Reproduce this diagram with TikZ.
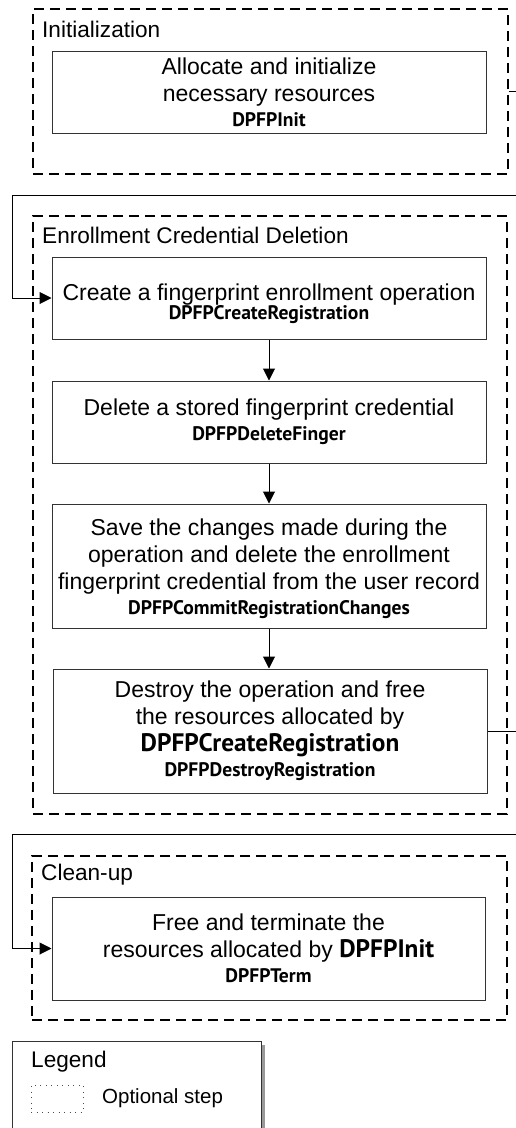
\documentclass[tikz,border=0pt]{standalone}
\usepackage{fontspec}
\setmainfont{Liberation Sans}
\newfontfamily\fnfont{PT Sans}
\usetikzlibrary{arrows.meta}
\newcommand\fnsm[1]{{\fnfont\bfseries\fontsize{19.6}{21}\selectfont #1}}
\newcommand\fnbig[1]{{\fnfont\bfseries\fontsize{25.3}{27}\selectfont #1}}
\begin{document}
\begin{tikzpicture}[x=1pt,y=-1pt,
  group/.style={draw=black, line width=1.4pt, dash pattern=on 10pt off 6pt, inner sep=0pt},
  stepbox/.style={draw=black!80, line width=1pt, minimum width=434pt, align=center, inner sep=0pt, font=\fontsize{23}{27}\selectfont},
  gtitle/.style={anchor=west, inner sep=0pt, font=\fontsize{22.6}{27}\selectfont},
  conn/.style={draw=black, line width=1pt},
  arr/.style={conn, -{Triangle[length=12pt,width=12pt]}},
]
\useasboundingbox (0,0) rectangle (516,1128);
\fill[white] (0,0) rectangle (516,1128);

% Initialization
\node[group, minimum width=475pt, minimum height=165pt] (g1) at (270.5,91.5) {};
\node[gtitle] (t1) at (42,29) {Initialization};
\node[stepbox, minimum height=82pt] (init) at (269,92) {Allocate and initialize\\necessary resources\\[-2pt]\fnsm{DPFPInit}};

% Enrollment Credential Deletion
\node[group, minimum width=474pt, minimum height=598pt] (g2) at (270,515) {};
\node[gtitle] (t2) at (42,235) {Enrollment Credential Deletion};
\node[stepbox, minimum height=82pt] (create) at (269,298) {\rule{0pt}{28pt}Create a fingerprint enrollment operation\\[-8pt]\fnsm{DPFPCreateRegistration}};
\node[stepbox, minimum height=82pt] (delete) at (269,422) {Delete a stored fingerprint credential\\[-2pt]\fnsm{DPFPDeleteFinger}};
\node[stepbox, minimum height=124pt] (save) at (269,566) {\rule{0pt}{22pt}Save the changes made during the\\operation and delete the enrollment\\fingerprint credential from the user record\\[-2pt]\fnsm{DPFPCommitRegistrationChanges}};
\node[stepbox, minimum height=124pt] (destroy) at (270,731) {Destroy the operation and free\\the resources allocated by\\\fnbig{DPFPCreateRegistration}\\[-2pt]\fnsm{DPFPDestroyRegistration}};

% Clean-up
\node[group, minimum width=475pt, minimum height=164pt] (g3) at (269.5,938) {};
\node[gtitle] (t3) at (41,875) {Clean-up};
\node[stepbox, minimum width=433pt, minimum height=103pt] (cleanup) at (268.5,948.5) {Free and terminate the\\resources allocated by \fnbig{DPFPInit}\\[-2pt]\fnsm{DPFPTerm}};

% Legend
\fill[black!40] (16,1045) rectangle (265,1140);
\node[draw=black!80, fill=white, line width=1pt, minimum width=249pt, minimum height=99pt, inner sep=0pt] (legend) at (136.5,1090.5) {};
\node[gtitle] (lt) at (31,1062) {Legend};
\node[draw=black!70, line width=1pt, dash pattern=on 1pt off 4.5pt, minimum width=52pt, minimum height=27pt, inner sep=0pt] (opt) at (57,1098.5) {};
\node[anchor=west, inner sep=0pt, font=\fontsize{20.5}{24}\selectfont] (optl) at (102,1098) {Optional step};

% Connectors
\coordinate (r1) at (540,195);
\coordinate (l1) at (12,195);
\draw[arr] (g1.east) -| (r1) -- (l1) |- (create.west);
\coordinate (r2) at (540,834);
\coordinate (l2) at (12,834);
\draw[arr] (destroy.east) -| (r2) -- (l2) |- (cleanup.west);
\draw[arr] (create.south) -- (delete.north);
\draw[arr] (delete.south) -- (save.north);
\draw[arr] (save.south) -- (save.south |- destroy.north);
\end{tikzpicture}
\end{document}
